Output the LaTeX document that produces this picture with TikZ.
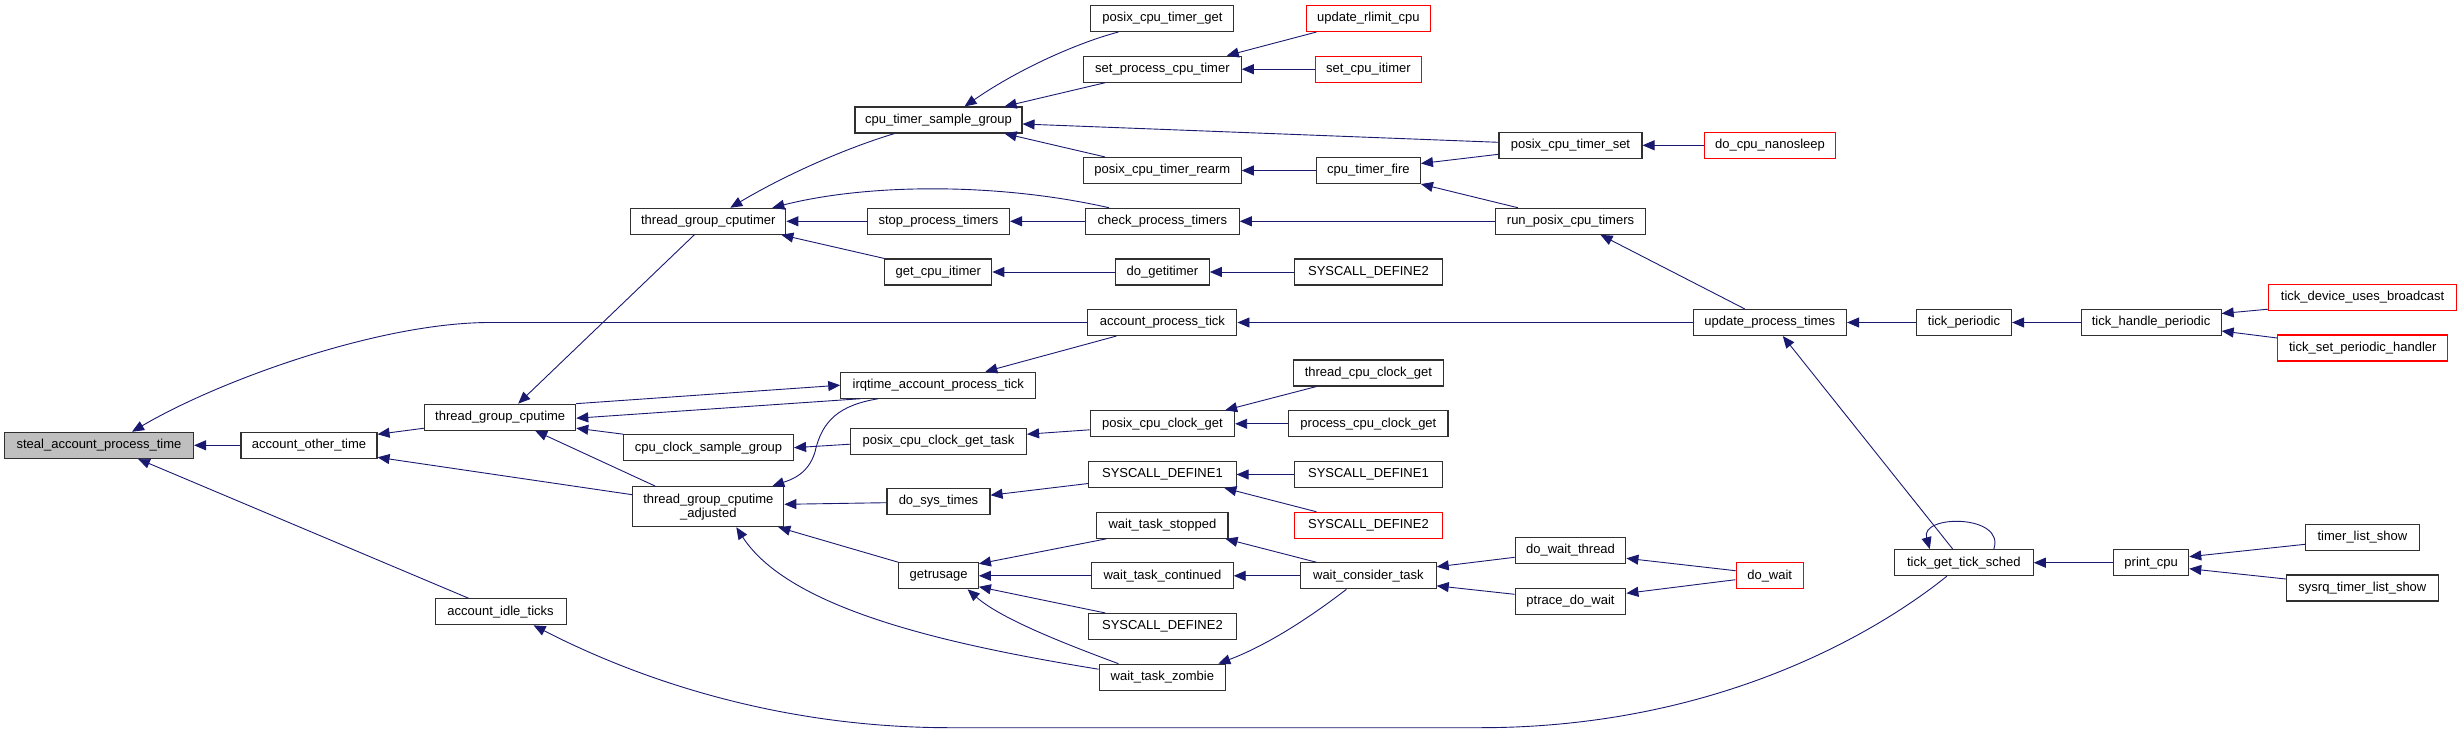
\documentclass[tikz,border=0pt]{standalone}
\usepackage{fontspec}
\setmainfont{Liberation Sans}
\usetikzlibrary{arrows.meta,calc}
\definecolor{edgecol}{HTML}{191970}
\definecolor{nodeborder}{HTML}{303030}
\definecolor{rootfill}{HTML}{BFBFBF}
\definecolor{redline}{HTML}{FF0000}
\begin{document}
\begin{tikzpicture}[x=1pt,y=-1pt,
  box/.style={draw=nodeborder, line width=1.1pt, fill=white, inner sep=0pt, minimum height=26pt, font=\fontsize{13}{14}\selectfont, align=center},
  redbox/.style={box, draw=redline},
  edge/.style={draw=edgecol, line width=0.9pt, -{Triangle[length=12pt,width=10pt]}}]
\useasboundingbox (0,0) rectangle (2461,733);

% column 1-3
\node[box,fill=rootfill,minimum width=189pt] (steal) at (99,445.3) {steal\_account\_process\_time};
\node[box,minimum width=136pt] (aot) at (309,445.3) {account\_other\_time};
\node[box,minimum width=151pt] (tgc) at (500.2,417.2) {thread\_group\_cputime};
\node[box,minimum width=131pt] (aidle) at (500.6,611.8) {account\_idle\_ticks};
\node[box,minimum width=155pt] (tgcr) at (708.3,221.3) {thread\_group\_cputimer};
\node[box,minimum width=170pt] (ccsg) at (708.5,447.7) {cpu\_clock\_sample\_group};
\node[box,minimum width=151pt,minimum height=40pt] (tgca) at (708.3,506.7) {thread\_group\_cputime\\\_adjusted};
\node[box,minimum width=167pt] (ctsg) at (938.5,120) {cpu\_timer\_sample\_group};
\node[box,minimum width=142pt] (spt) at (938.5,221.3) {stop\_process\_timers};
\node[box,minimum width=107pt] (gci) at (938.3,272) {get\_cpu\_itimer};
\node[box,minimum width=195pt] (irq) at (938.3,385.2) {irqtime\_account\_process\_tick};
\node[box,minimum width=176pt] (pccgt) at (938.5,441.2) {posix\_cpu\_clock\_get\_task};
\node[box,minimum width=103pt] (dst) at (938.5,501.2) {do\_sys\_times};
\node[box,minimum width=79.5pt] (gr) at (938.6,575.8) {getrusage};

% column 4
\node[box,minimum width=143pt] (pctg) at (1162.4,18.5) {posix\_cpu\_timer\_get};
\node[box,minimum width=157.6pt] (spct) at (1162.4,69.2) {set\_process\_cpu\_timer};
\node[box,minimum width=157.6pt] (pctr) at (1162.4,170.5) {posix\_cpu\_timer\_rearm};
\node[box,minimum width=153.6pt] (cpt) at (1162.4,221.3) {check\_process\_timers};
\node[box,minimum width=93.7pt] (dg) at (1162.4,272) {do\_getitimer};
\node[box,minimum width=149pt] (apt) at (1162.4,322.5) {account\_process\_tick};
\node[box,minimum width=144.4pt] (pccg) at (1162.4,423.8) {posix\_cpu\_clock\_get};
\node[box,minimum width=147.3pt] (sdA) at (1162.4,474.5) {SYSCALL\_DEFINE1};
\node[box,minimum width=131.2pt] (wts) at (1162.4,525.3) {wait\_task\_stopped};
\node[box,minimum width=141.5pt] (wtc) at (1162.4,575.8) {wait\_task\_continued};
\node[box,minimum width=147.3pt] (sdB) at (1162.4,626.5) {SYSCALL\_DEFINE2};
\node[box,minimum width=126.7pt] (wtz) at (1162.4,677.2) {wait\_task\_zombie};

% column 5
\node[redbox,minimum width=124pt] (url) at (1368.4,18.5) {update\_rlimit\_cpu};
\node[redbox,minimum width=106.6pt] (sci) at (1368.4,69.2) {set\_cpu\_itimer};
\node[box,minimum width=104pt] (ctf) at (1368.4,170.5) {cpu\_timer\_fire};
\node[box,minimum width=147.3pt] (sdC) at (1368.4,272) {SYSCALL\_DEFINE2};
\node[box,minimum width=149.4pt] (tccg) at (1368.4,373) {thread\_cpu\_clock\_get};
\node[box,minimum width=159.2pt] (pcg) at (1368.4,423.8) {process\_cpu\_clock\_get};
\node[box,minimum width=147.3pt] (sdD) at (1368.4,474.5) {SYSCALL\_DEFINE1};
\node[redbox,minimum width=147.3pt] (sdE) at (1368.4,525.3) {SYSCALL\_DEFINE2};
\node[box,minimum width=135.5pt] (wct) at (1368.4,575.8) {wait\_consider\_task};

% column 6
\node[box,minimum width=143pt] (pcts) at (1570.5,145.3) {posix\_cpu\_timer\_set};
\node[box,minimum width=150pt] (rpct) at (1570.5,221.3) {run\_posix\_cpu\_timers};
\node[box,minimum width=110.7pt] (dwt) at (1570.5,550.3) {do\_wait\_thread};
\node[box,minimum width=110.7pt] (pdw) at (1570.5,601.3) {ptrace\_do\_wait};

% column 7
\node[redbox,minimum width=131pt] (dcn) at (1770,145.3) {do\_cpu\_nanosleep};
\node[box,minimum width=153.4pt] (upt) at (1769.8,322.5) {update\_process\_times};
\node[redbox,minimum width=67.3pt] (dw) at (1769.7,575.7) {do\_wait};

% column 8-10
\node[box,minimum width=95pt] (tp) at (1964,322.5) {tick\_periodic};
\node[box,minimum width=138.8pt] (tgts) at (1963.8,562.7) {tick\_get\_tick\_sched};
\node[box,minimum width=140pt] (thp) at (2151.1,322.5) {tick\_handle\_periodic};
\node[box,minimum width=75pt] (pc) at (2151.2,562.7) {print\_cpu};
\node[redbox,minimum width=188pt] (tdub) at (2362.6,297.2) {tick\_device\_uses\_broadcast};
\node[redbox,minimum width=170pt] (tsph) at (2362.8,348) {tick\_set\_periodic\_handler};
\node[box,minimum width=113.5pt] (tls) at (2362.4,537.3) {timer\_list\_show};
\node[box,minimum width=152pt] (stls) at (2362.4,588) {sysrq\_timer\_list\_show};

% edges
\draw[edge] (aot.west) -- (steal.east);
\draw[edge] (apt.west) -- (490,322.5) .. controls (380,322.5) and (220,380) .. ($(steal.north)+(33,0)$);
\draw[edge] ($(aidle.north)+(-32,0)$) -- ($(steal.south)+(39,0)$);
\draw[edge] ($(tgc.west)+(0,11)$) -- ($(aot.east)+(0,-11)$);
\draw[edge] ($(tgca.west)+(0,-12)$) -- ($(aot.east)+(0,12)$);
\draw[edge] (upt.west) -- (apt.east);
\draw[edge] (tgc.north east) -- (irq.west);
\draw[edge] ($(irq.south west)+(20,0)$) -- ($(tgc.east)+(0,1)$);
\draw[edge] (ccsg.north west) -- ($(tgc.east)+(0,11)$);
\draw[edge] ($(tgca.north)+(-53,0)$) -- ($(tgc.south)+(35,0)$);
\draw[edge] ($(tgcr.south)+(-14,0)$) -- ($(tgc.north)+(18,0)$);
\draw[edge] ($(apt.south)+(-46,0)$) -- ($(irq.north)+(47,0)$);
\draw[edge] ($(irq.south)+(-60,0)$) .. controls (840,405) and (822,420) .. (815,452) .. controls (808,475) and (790,480) .. ($(tgca.north)+(64,0)$);
\draw[edge] ($(pccgt.west)+(0,3)$) -- (ccsg.east);
\draw[edge] ($(pccg.west)+(0,6)$) -- ($(pccgt.east)+(0,-7)$);
\draw[edge] ($(tccg.south)+(-52,0)$) -- ($(pccg.north east)+(-10,0)$);
\draw[edge] (pcg.west) -- (pccg.east);
\draw[edge] ($(dst.west)+(0,1.5)$) -- ($(tgca.east)+(0,-2.4)$);
\draw[edge] ($(sdA.west)+(0,9)$) -- ($(dst.east)+(0,-6)$);
\draw[edge] (sdD.west) -- (sdA.east);
\draw[edge] ($(sdE.north)+(-52,0)$) -- ($(sdA.south)+(62,0)$);
\draw[edge] (gr.north west) -- ($(tgca.south east)+(-6,0)$);
\draw[edge] ($(wtz.west)+(0,-8)$) .. controls (950,645) and (790,610) .. ($(tgca.south)+(28,0)$);
\draw[edge] ($(wts.south west)+(10,0)$) -- ($(gr.east)+(0,-12)$);
\draw[edge] (wtc.west) -- (gr.east);
\draw[edge] ($(sdB.north west)+(17,0)$) -- ($(gr.east)+(0,11)$);
\draw[edge] ($(wtz.north)+(-44,0)$) .. controls (1060,642) and (1000,618) .. ($(gr.south)+(29,0)$);
\draw[edge] ($(wct.north)+(-52,0)$) -- ($(wts.south east)+(-3,0)$);
\draw[edge] (wct.west) -- (wtc.east);
\draw[edge] ($(wct.south)+(-22,0)$) .. controls (1300,625) and (1260,648) .. ($(wtz.north east)+(-8,0)$);
\draw[edge] ($(dwt.west)+(0,7)$) -- ($(wct.east)+(0,-9)$);
\draw[edge] ($(pdw.west)+(0,-7)$) -- ($(wct.east)+(0,10)$);
\draw[edge] ($(dw.west)+(0,-5)$) -- ($(dwt.east)+(0,8)$);
\draw[edge] ($(dw.west)+(0,4)$) -- ($(pdw.east)+(0,-8)$);
\draw[edge] ($(tgts.north)+(-11,0)$) -- ($(upt.south)+(13,0)$);
\draw[edge] ($(tgts.north)+(30,0)$) .. controls +(12,-35) and +(-10,-35) .. ($(tgts.north)+(-34,0)$);
\draw[edge] ($(tgts.south)+(-17,0)$) .. controls (1880,630) and (1720,727.7) .. (1480,727.7) -- (950,727.7) .. controls (780,727.7) and (640,680) .. ($(aidle.south)+(33,0)$);
\draw[edge] (pc.west) -- (tgts.east);
\draw[edge] ($(tls.west)+(0,7)$) -- ($(pc.east)+(0,-6)$);
\draw[edge] ($(stls.west)+(0,-9)$) -- ($(pc.east)+(0,6)$);
\draw[edge] (tp.west) -- (upt.east);
\draw[edge] (thp.west) -- (tp.east);
\draw[edge] ($(tdub.west)+(0,12)$) -- ($(thp.east)+(0,-9)$);
\draw[edge] ($(tsph.west)+(0,-10)$) -- ($(thp.east)+(0,8.5)$);
\draw[edge] ($(upt.north)+(-25,0)$) -- ($(rpct.south)+(30,0)$);
\draw[edge] (rpct.west) -- (cpt.east);
\draw[edge] ($(rpct.north west)+(23,0)$) -- (ctf.south east);
\draw[edge] ($(pcts.west)+(0,9)$) -- ($(ctf.east)+(0,-7)$);
\draw[edge] (dcn.west) -- (pcts.east);
\draw[edge] ($(pcts.west)+(0,-3)$) -- ($(ctsg.east)+(0,4)$);
\draw[edge] (ctf.west) -- (pctr.east);
\draw[edge] ($(pctr.north west)+(22,0)$) -- ($(ctsg.south east)+(-18,0)$);
\draw[edge] ($(spct.south west)+(22,0)$) -- ($(ctsg.north east)+(-18,0)$);
\draw[edge] ($(pctg.south)+(-44,0)$) .. controls (1080,42) and (1020,68) .. ($(ctsg.north)+(26,0)$);
\draw[edge] ($(url.south)+(-52,0)$) -- ($(spct.north east)+(-15,0)$);
\draw[edge] (sci.west) -- (spct.east);
\draw[edge] ($(ctsg.south)+(-44,0)$) .. controls (840,150) and (780,178) .. ($(tgcr.north)+(22,0)$);
\draw[edge] ($(cpt.north west)+(24,0)$) .. controls (1000,183) and (870,183) .. ($(tgcr.north east)+(-14,0)$);
\draw[edge] (cpt.west) -- (spt.east);
\draw[edge] (spt.west) -- (tgcr.east);
\draw[edge] (gci.north west) -- ($(tgcr.south east)+(-5,0)$);
\draw[edge] (dg.west) -- (gci.east);
\draw[edge] (sdC.west) -- (dg.east);
\end{tikzpicture}
\end{document}
